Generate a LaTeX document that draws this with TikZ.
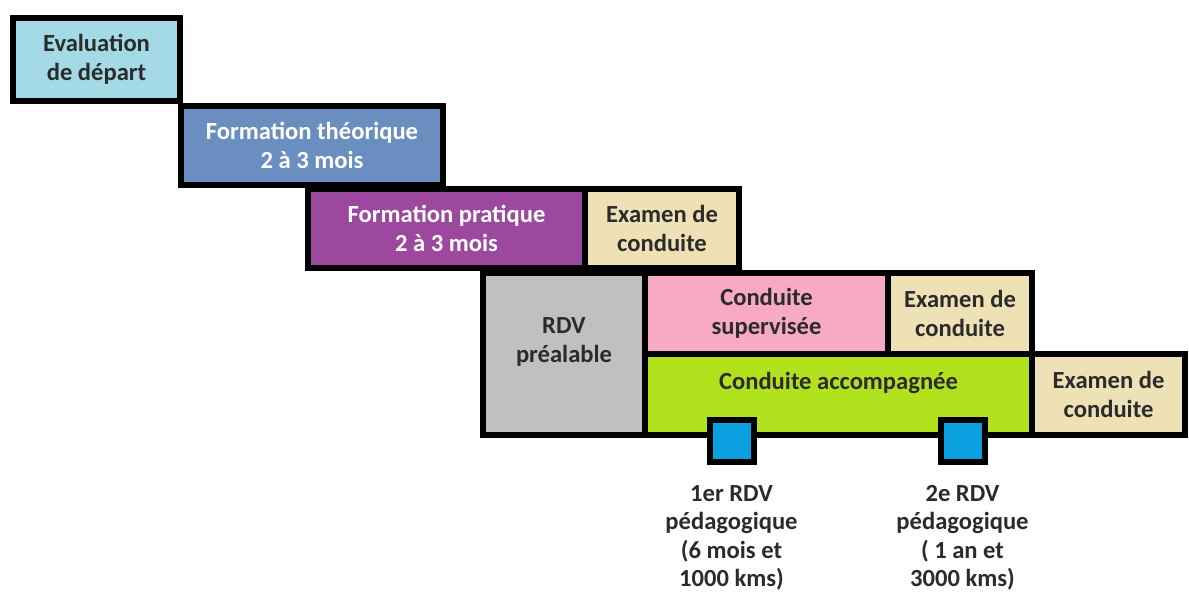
\documentclass[tikz,border=0pt]{standalone}
\usepackage{fontspec}
\setmainfont{Carlito}
\definecolor{evalblue}{HTML}{A3DAE6}
\definecolor{theoblue}{HTML}{6A8EBF}
\definecolor{pratpurple}{HTML}{9C489F}
\definecolor{exambeige}{HTML}{EFE1B6}
\definecolor{rdvgrey}{HTML}{C0C0C0}
\definecolor{suppink}{HTML}{F7A9C6}
\definecolor{acclime}{HTML}{B2E21E}
\definecolor{rdvcyan}{HTML}{0A9FDE}
\definecolor{darktext}{HTML}{2B2B2B}

\begin{document}
\begin{tikzpicture}[x=0.02cm,y=-0.02cm,
  stage/.style={draw=black,line width=0.12cm,inner sep=0pt,align=center,
    font=\bfseries\fontsize{14}{16.2}\selectfont,text=darktext},
  txt/.style={inner sep=0pt,align=center,font=\bfseries\fontsize{14}{16.2}\selectfont,text=darktext},
  rdvbox/.style={draw=black,line width=0.12cm,fill=rdvcyan,minimum width=0.88cm,minimum height=0.84cm,inner sep=0pt}]
\useasboundingbox (0,0) rectangle (1189,595);

\node[stage,fill=evalblue,minimum width=3.34cm,minimum height=1.66cm] (eval) at (96.5,59.5) {Evaluation\\de départ};
\node[stage,fill=theoblue,text=white,minimum width=5.24cm,minimum height=1.58cm] (theo) at (312,145.5) {Formation théorique\\2 à 3 mois};
\node[stage,fill=pratpurple,text=white,minimum width=5.54cm,minimum height=1.58cm] (prat) at (446.5,228.5) {Formation pratique\\2 à 3 mois};
\node[stage,fill=exambeige,minimum width=3.08cm,minimum height=1.58cm] (exama) at (662,228.5) {Examen de\\conduite};

\node[stage,fill=rdvgrey,minimum width=3.24cm,minimum height=3.24cm] (rdv) at (564,354) {};
\node[txt] (rdvlbl) at (564,342) {RDV\\préalable};
\node[stage,fill=suppink,minimum width=4.86cm,minimum height=1.62cm] (sup) at (766.5,313.5) {Conduite\\supervisée};
\node[stage,fill=exambeige,minimum width=2.88cm,minimum height=1.62cm] (examb) at (960,313.5) {Examen de\\conduite};
\node[stage,fill=acclime,minimum width=7.74cm,minimum height=1.62cm] (acc) at (838.5,394.5) {};
\node[txt] (acclbl) at (838.5,383) {Conduite accompagnée};
\node[stage,fill=exambeige,minimum width=3.06cm,minimum height=1.62cm] (examc) at (1108.5,394.5) {Examen de\\conduite};

\node[rdvbox] (rdvboxa) at (731.5,441) {};
\node[rdvbox] (rdvboxb) at (962.5,441) {};
\node[txt] (rdva) at (731.5,538) {1er RDV\\pédagogique\\(6 mois et\\1000 kms)};
\node[txt] (rdvb) at (962.5,538) {2e RDV\\pédagogique\\( 1 an et\\3000 kms)};
\end{tikzpicture}
\end{document}
